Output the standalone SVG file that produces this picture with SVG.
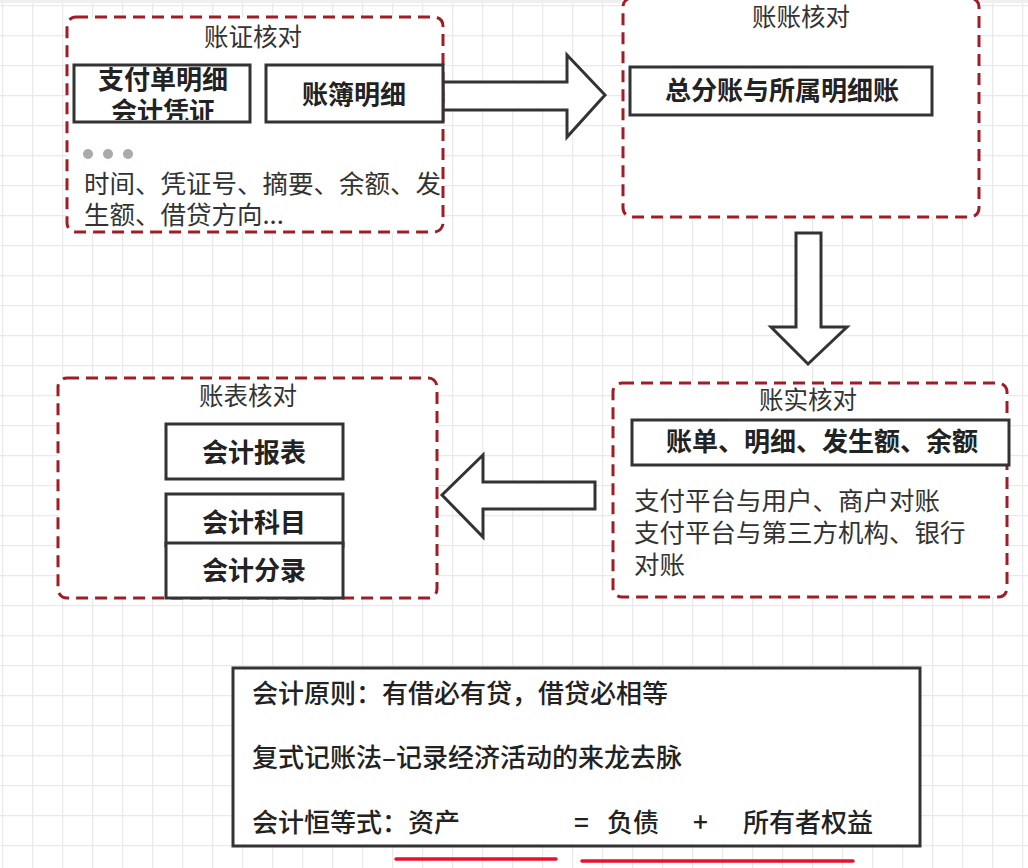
<svg xmlns="http://www.w3.org/2000/svg" width="1028" height="868" viewBox="0 0 1028 868">
<defs>
<pattern id="grid" x="2" y="5" width="30" height="30" patternUnits="userSpaceOnUse">
<path d="M0 0.5H30M0.5 0V30" fill="none" stroke="#e9e9e9" stroke-width="1.5"/>
</pattern>
<clipPath id="clipA"><rect x="76" y="67" width="172" height="53"/></clipPath>
<style>
.grp{fill:#fff;stroke:#a11c27;stroke-width:3;stroke-dasharray:12 7}
.box{fill:#fff;stroke:#333;stroke-width:3}
.arrow{fill:#fff;stroke:#333;stroke-width:3;stroke-linejoin:miter}
text{font-family:"Noto Sans CJK SC","Noto Sans",sans-serif;fill:#333}
.title{font-size:24.5px;text-anchor:middle}
.bold{font-size:26px;font-weight:bold;text-anchor:middle;fill:#222}
.body{font-size:25.5px}
.note{font-size:26px;font-weight:500;fill:#222}
.red{stroke:#e8112b;stroke-width:3.5;stroke-linecap:round}
</style>
</defs>
<rect width="1028" height="868" fill="#fff"/>
<rect width="1028" height="868" fill="url(#grid)"/>
<rect width="1028" height="3" fill="#efefef"/>

<g id="connectors">
<path class="arrow" d="M443 82H567V55L605 95L567 137V110H443Z"/>
<path class="arrow" d="M796 233H821V327H847L808 364L771 327H796Z"/>
<path class="arrow" d="M595 482H483V455L442 495L483 537V509H595Z"/>
</g>

<g id="node-zhangzheng">
<rect class="grp" x="67" y="17" width="376" height="215" rx="9"/>
<text class="title" x="253" y="46">账证核对</text>
<rect class="box" x="74" y="65" width="176" height="57"/>
<g clip-path="url(#clipA)">
<text class="bold" x="163" y="89">支付单明细</text>
<text class="bold" x="163" y="121">会计凭证</text>
</g>
<rect class="box" x="266" y="65" width="177" height="57"/>
<text class="bold" x="354" y="104">账簿明细</text>
<circle cx="88" cy="154" r="5" fill="#aaa"/>
<circle cx="108" cy="154" r="5" fill="#aaa"/>
<circle cx="128" cy="154" r="5" fill="#aaa"/>
<text class="body" x="84" y="193">时间、凭证号、摘要、余额、发</text>
<text class="body" x="84" y="224">生额、借贷方向...</text>
</g>

<g id="node-zhangzhang">
<rect class="grp" x="623" y="-2" width="356" height="219" rx="9"/>
<text class="title" x="801" y="26">账账核对</text>
<rect class="box" x="630" y="67" width="302" height="48"/>
<text class="bold" x="782" y="100">总分账与所属明细账</text>
</g>

<g id="node-zhangshi">
<rect class="grp" x="613" y="383" width="394" height="214" rx="9"/>
<text class="title" x="808" y="409">账实核对</text>
<rect class="box" x="632" y="420" width="377" height="45"/>
<text class="bold" x="822" y="451">账单、明细、发生额、余额</text>
<text class="body" x="634" y="510">支付平台与用户、商户对账</text>
<text class="body" x="634" y="542">支付平台与第三方机构、银行</text>
<text class="body" x="634" y="574">对账</text>
</g>

<g id="node-zhangbiao">
<rect class="grp" x="58" y="378" width="379" height="220" rx="9"/>
<text class="title" x="248" y="405">账表核对</text>
<rect class="box" x="166" y="424" width="177" height="55"/>
<text class="bold" x="254" y="462">会计报表</text>
<rect class="box" x="166" y="494" width="177" height="52"/>
<text class="bold" x="254" y="532">会计科目</text>
<rect class="box" x="166" y="543" width="177" height="55"/>
<text class="bold" x="254" y="580">会计分录</text>
</g>

<g id="node-principles">
<rect class="box" x="233" y="668" width="687" height="178"/>
<text class="note" x="252" y="703">会计原则：有借必有贷，借贷必相等</text>
<text class="note" x="252" y="767">复式记账法–记录经济活动的来龙去脉</text>
<text class="note" y="832"><tspan x="252">会计恒等式：资产</tspan><tspan x="574">=</tspan><tspan x="607">负债</tspan><tspan x="693">+</tspan><tspan x="743">所有者权益</tspan></text>
<line class="red" x1="396" y1="859" x2="556" y2="859"/>
<line class="red" x1="582" y1="861" x2="853" y2="861"/>
</g>
</svg>
